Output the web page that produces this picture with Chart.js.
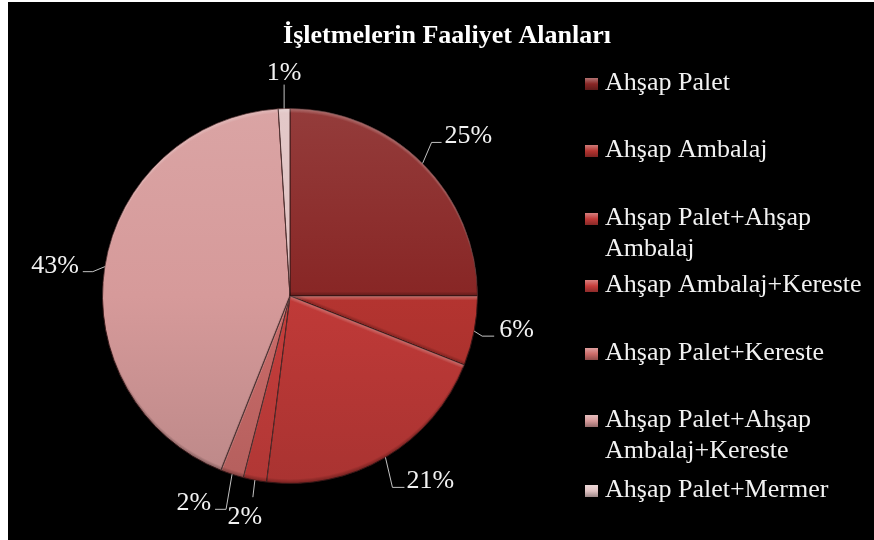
<!DOCTYPE html>
<html>
<head>
<meta charset="utf-8">
<script src="https://cdn.jsdelivr.net/npm/chart.js@4.4.1/dist/chart.umd.min.js"></script>
<style>
  html, body { margin: 0; padding: 0; background: #ffffff; }
  canvas { display: block; }
</style>
</head>
<body>
<canvas id="c" width="874" height="540"></canvas>
<script>
const chartTitle = 'İşletmelerin Faaliyet Alanları';
const categories = [
  'Ahşap Palet',
  'Ahşap Ambalaj',
  'Ahşap Palet+Ahşap Ambalaj',
  'Ahşap Ambalaj+Kereste',
  'Ahşap Palet+Kereste',
  'Ahşap Palet+Ahşap Ambalaj+Kereste',
  'Ahşap Palet+Mermer'
];
const values = [25, 6, 21, 2, 2, 43, 1];
const sliceColors = [
  [136, 38, 37],
  [180, 52, 48],
  [192, 58, 56],
  [200, 62, 60],
  [204, 108, 106],
  [214, 154, 154],
  [224, 194, 194]
];

const FONT = '"Liberation Serif", "Times New Roman", serif';

function shade(c, f) {
  const t = f > 0 ? 255 : 0, p = Math.abs(f);
  return 'rgb(' + c.map(v => Math.round(v + (t - v) * p)).join(',') + ')';
}

// label layout relative to the point on the rim at the slice's mid angle
const labelLayout = [
  { pts: [[9, -21], [19, -21]], text: [22, -20], align: 'left' },
  { pts: [[8, 5], [20, 5]], text: [25, 6], align: 'left' },
  { pts: [[7, 30], [19, 30]], text: [21, 31], align: 'left' },
  { pts: [[-2, 17]], text: [-10, 44], align: 'center' },
  { pts: [[-6, 35], [-17, 35]], text: [-21, 36], align: 'right' },
  { pts: [[-12, 5], [-22, 5]], text: [-26, 6], align: 'right' },
  { pts: [[0, -24]], text: [0, -29], align: 'center' }
];
const legendBaselines = [90, 157, 225, 292, 360, 427, 497];

function slicePath(ctx, x, y, r, a0, a1, dx, dy) {
  ctx.moveTo(x + dx, y + dy);
  ctx.arc(x + dx, y + dy, r, a0, a1);
  ctx.closePath();
}

const decor = {
  id: 'decor',
  beforeDraw(chart) {
    const ctx = chart.ctx;
    ctx.save();
    ctx.fillStyle = '#ffffff';
    ctx.fillRect(0, 0, chart.width, chart.height);
    ctx.fillStyle = '#000000';
    ctx.fillRect(8, 2, chart.width - 8, chart.height - 2);
    ctx.fillStyle = '#ffffff';
    ctx.font = 'bold 26px ' + FONT;
    ctx.textAlign = 'center';
    ctx.textBaseline = 'alphabetic';
    ctx.fillText(chartTitle, 447, 43);
    ctx.restore();
  },
  afterDatasetsDraw(chart) {
    const ctx = chart.ctx;
    const meta = chart.getDatasetMeta(0);
    const total = values.reduce((a, b) => a + b, 0);
    // bevel: light on upward-facing edges, shade on downward-facing edges
    meta.data.forEach((arc) => {
      const { x, y, startAngle, endAngle, outerRadius } = arc.getProps(['x', 'y', 'startAngle', 'endAngle', 'outerRadius'], true);
      ctx.save();
      ctx.beginPath();
      slicePath(ctx, x, y, outerRadius, startAngle, endAngle, 0, 0);
      ctx.clip();
      for (let d = 1; d <= 4; d++) {
        ctx.beginPath();
        ctx.rect(0, 0, chart.width, chart.height);
        slicePath(ctx, x, y, outerRadius, startAngle, endAngle, 0, d);
        ctx.fillStyle = 'rgba(255,255,255,0.07)';
        ctx.fill('evenodd');
        ctx.beginPath();
        ctx.rect(0, 0, chart.width, chart.height);
        slicePath(ctx, x, y, outerRadius, startAngle, endAngle, 0, -d);
        ctx.fillStyle = 'rgba(0,0,0,0.07)';
        ctx.fill('evenodd');
      }
      ctx.restore();
    });
    // data labels with leader lines
    ctx.save();
    ctx.font = '26px ' + FONT;
    ctx.textBaseline = 'alphabetic';
    meta.data.forEach((arc, i) => {
      const { x, y, startAngle, endAngle, outerRadius } = arc.getProps(['x', 'y', 'startAngle', 'endAngle', 'outerRadius'], true);
      const mid = (startAngle + endAngle) / 2;
      const ex = x + Math.cos(mid) * outerRadius;
      const ey = y + Math.sin(mid) * outerRadius;
      const L = labelLayout[i];
      ctx.strokeStyle = 'rgba(205,205,205,0.95)';
      ctx.lineWidth = 1;
      ctx.beginPath();
      ctx.moveTo(ex, ey);
      L.pts.forEach(p => ctx.lineTo(ex + p[0], ey + p[1]));
      ctx.stroke();
      ctx.fillStyle = '#f2f2f2';
      ctx.textAlign = L.align;
      const pct = Math.round(values[i] / total * 100) + '%';
      ctx.fillText(pct, ex + L.text[0], ey + L.text[1]);
    });
    ctx.restore();
    // legend
    ctx.save();
    ctx.font = '26px ' + FONT;
    ctx.textAlign = 'left';
    ctx.textBaseline = 'alphabetic';
    const maxW = 266;
    categories.forEach((label, i) => {
      const by = legendBaselines[i];
      const c = sliceColors[i];
      const g = ctx.createLinearGradient(0, by - 12, 0, by);
      g.addColorStop(0, shade(c, 0.35));
      g.addColorStop(0.5, shade(c, 0));
      g.addColorStop(1, shade(c, -0.3));
      ctx.fillStyle = g;
      ctx.fillRect(585, by - 12, 13, 12);
      ctx.fillStyle = '#f2f2f2';
      const words = label.split(' ');
      const lines = [];
      let cur = '';
      words.forEach(w => {
        const test = cur ? cur + ' ' + w : w;
        if (ctx.measureText(test).width > maxW && cur) { lines.push(cur); cur = w; }
        else cur = test;
      });
      if (cur) lines.push(cur);
      lines.forEach((ln, k) => ctx.fillText(ln, 605, by + k * 30.5));
    });
    ctx.restore();
  }
};

new Chart(document.getElementById('c'), {
  type: 'pie',
  data: {
    labels: categories,
    datasets: [{
      data: values,
      backgroundColor(context) {
        const c = sliceColors[context.dataIndex];
        const area = context.chart.chartArea;
        if (!area) return shade(c, 0);
        const g = context.chart.ctx.createLinearGradient(0, area.top, 0, area.bottom);
        g.addColorStop(0, shade(c, 0.1));
        g.addColorStop(0.5, shade(c, 0));
        g.addColorStop(1, shade(c, -0.12));
        return g;
      },
      borderColor: 'rgba(60,25,25,0.9)',
      borderWidth: 1
    }]
  },
  options: {
    responsive: false,
    devicePixelRatio: 1,
    animation: false,
    layout: { padding: { left: 102, top: 108, right: 396, bottom: 56 } },
    plugins: {
      legend: { display: false },
      title: { display: false },
      tooltip: { enabled: false }
    }
  },
  plugins: [decor]
});
</script>
</body>
</html>
